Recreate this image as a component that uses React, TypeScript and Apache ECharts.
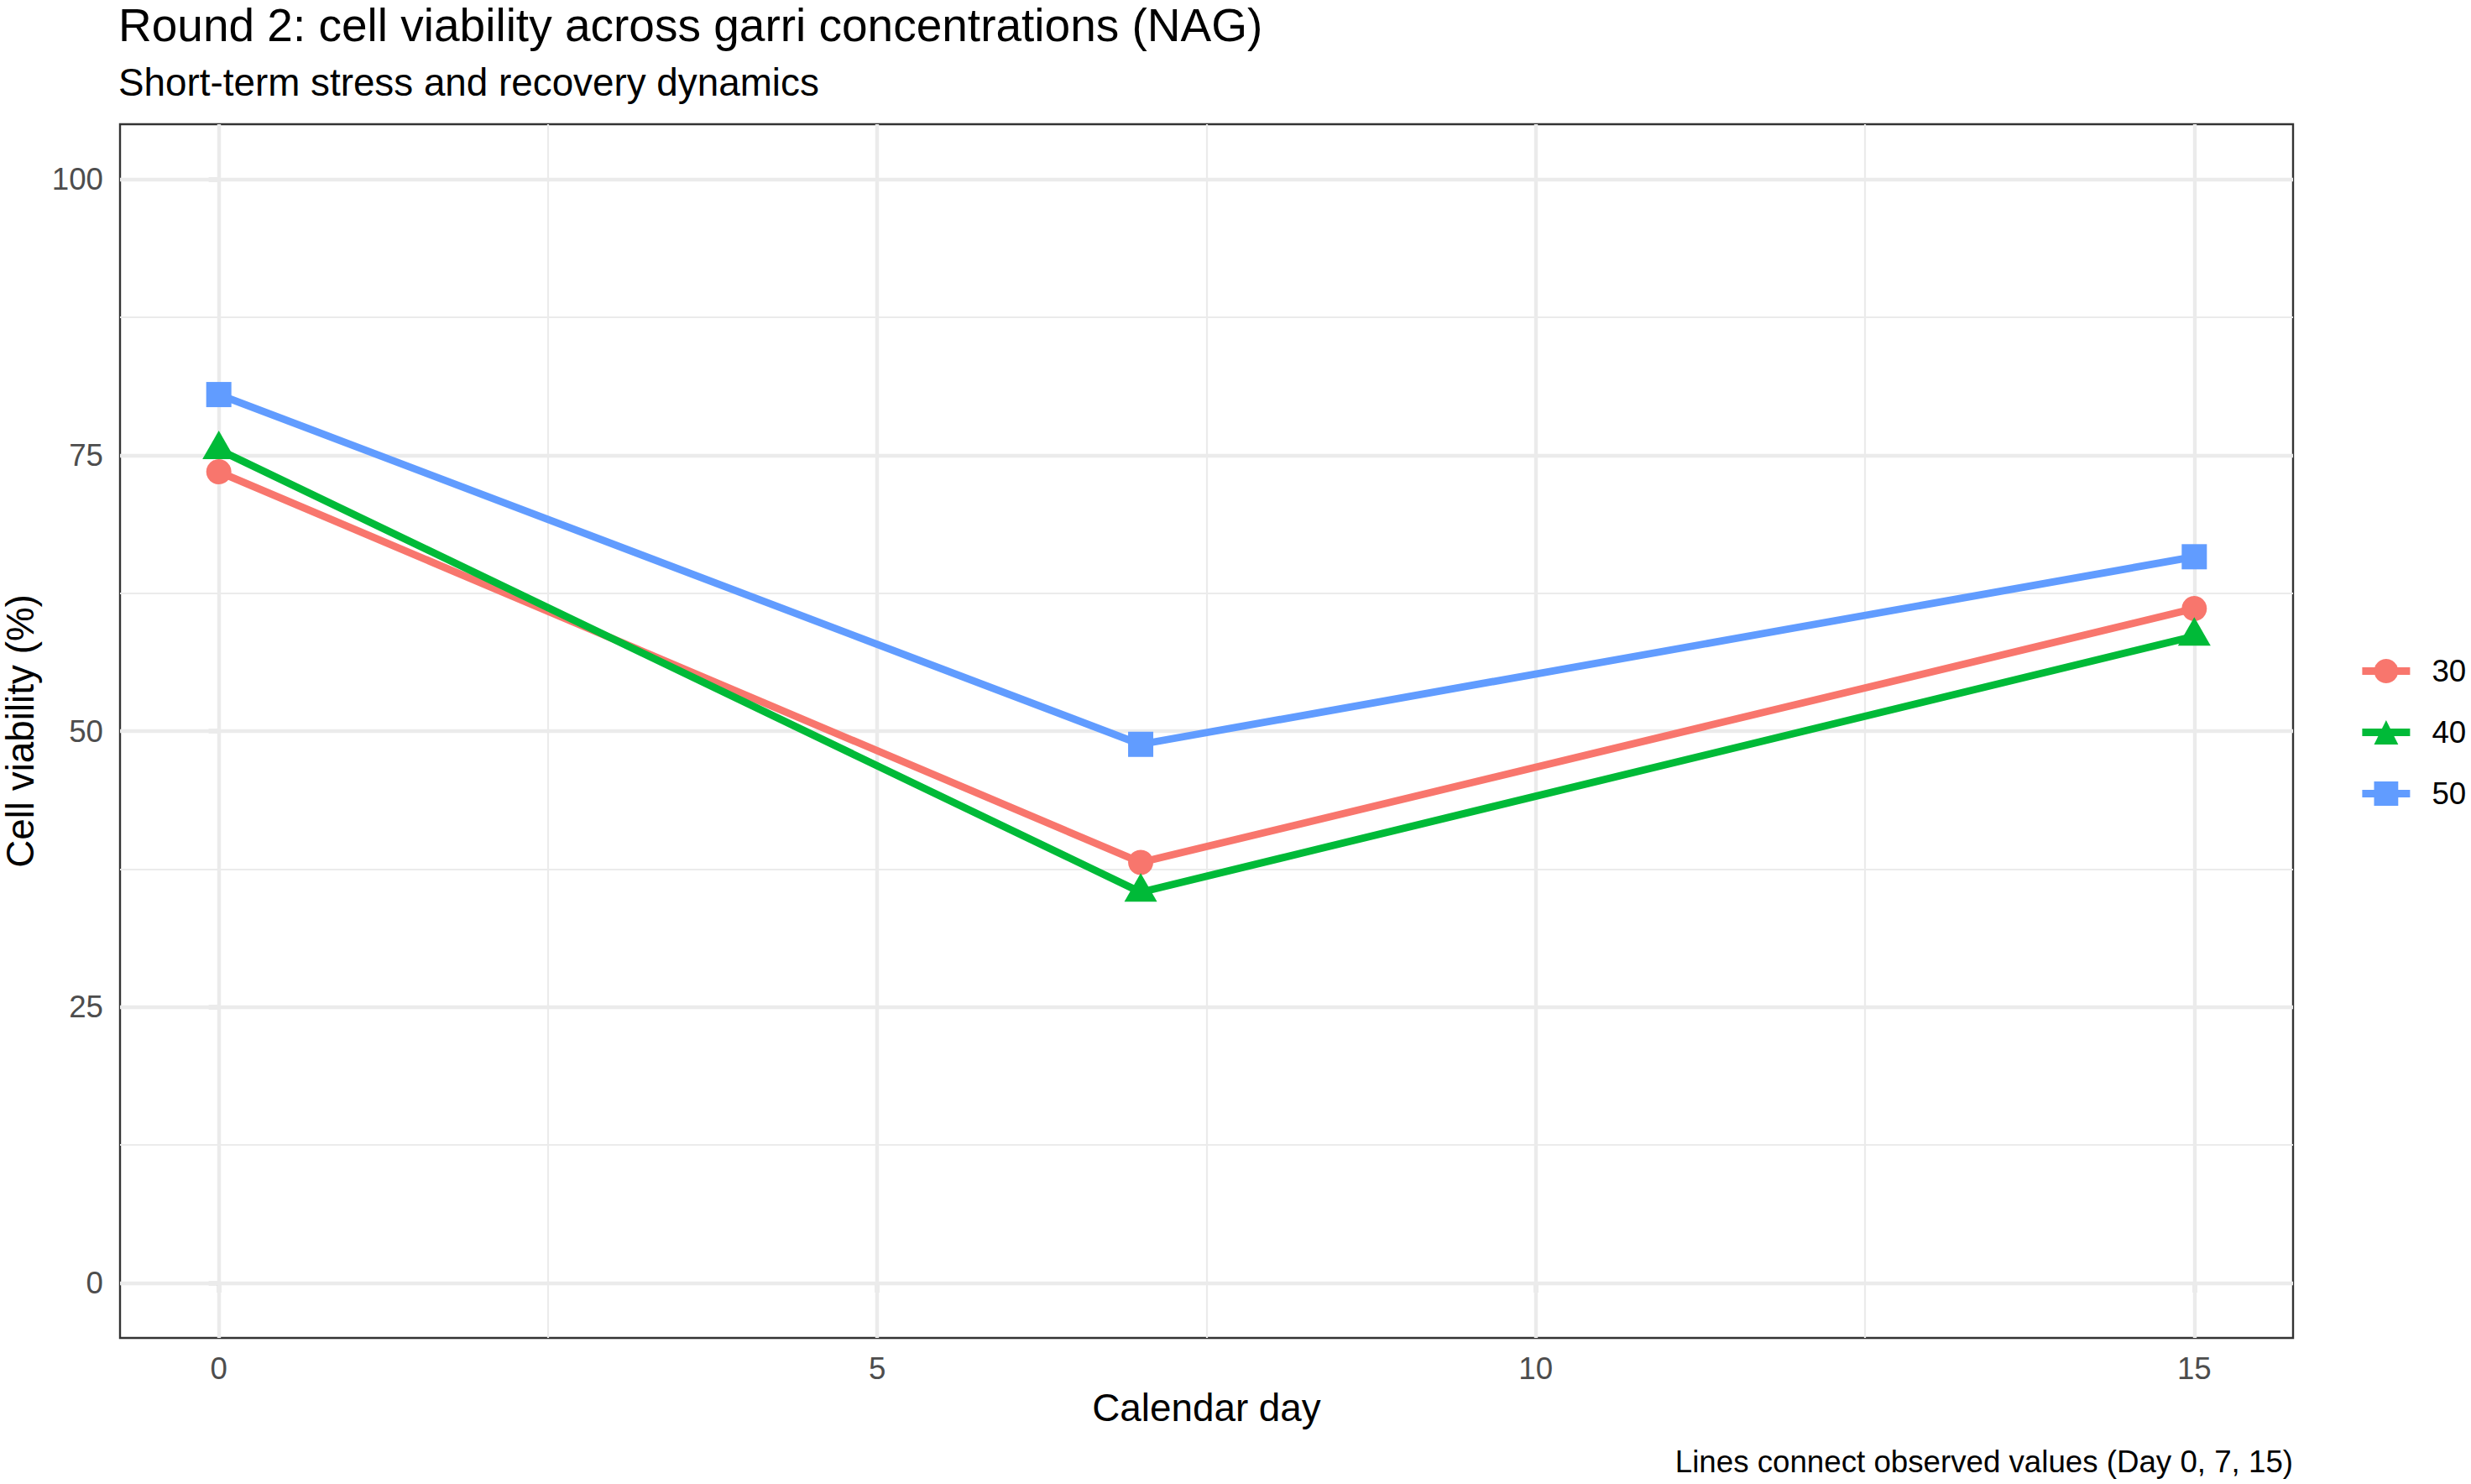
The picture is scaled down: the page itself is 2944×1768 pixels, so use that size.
import React, { useEffect, useRef } from "react";
import * as echarts from "echarts";

const days = [0, 7, 15];
const seriesNames = ["30", "40", "50"];
const conc30 = [73.5, 38.1, 61.1];
const conc40 = [75.5, 35.4, 58.6];
const conc50 = [80.5, 48.8, 65.8];
const yTicks = [0, 25, 50, 75, 100];
const yMinor = [12.5, 37.5, 62.5, 87.5];
const xTicks = [0, 5, 10, 15];
const xMinor = [2.5, 7.5, 12.5];

const colors = ["#F8766D", "#00BA38", "#619CFF"];
const symbols = ["circle", "triangle", "rect"];
const FONT = "'Liberation Sans', Arial, Helvetica, sans-serif";

export default function App() {
  const ref = useRef<HTMLDivElement>(null);
  useEffect(() => {
    if (!ref.current) return;
    const chart = echarts.init(ref.current, null, { renderer: "svg" });
    const values = [conc30, conc40, conc50];

    const gridLines: any[] = [];
    yTicks.forEach((v) => gridLines.push({ yAxis: v, lineStyle: { color: "#EBEBEB", width: 4.4, type: "solid" } }));
    yMinor.forEach((v) => gridLines.push({ yAxis: v, lineStyle: { color: "#EBEBEB", width: 2.2, type: "solid" } }));
    xTicks.forEach((v) => gridLines.push({ xAxis: v, lineStyle: { color: "#EBEBEB", width: 4.4, type: "solid" } }));
    xMinor.forEach((v) => gridLines.push({ xAxis: v, lineStyle: { color: "#EBEBEB", width: 2.2, type: "solid" } }));

    const lineSeries = seriesNames.map((name, i) => ({
      name,
      type: "line",
      data: days.map((d, j) => [d, values[i][j]]),
      symbol: symbols[i],
      showSymbol: false,
      lineStyle: { color: colors[i], width: 8.8 },
      itemStyle: { color: colors[i] },
      z: 3,
      silent: true,
      markLine:
        i === 0
          ? { silent: true, symbol: ["none", "none"], label: { show: false }, z: 1, animation: false, data: gridLines }
          : undefined,
    }));
    const pointSeries = seriesNames.map((name, i) => ({
      name,
      type: "scatter",
      data: days.map((d, j) => [d, values[i][j]]),
      symbol: symbols[i],
      symbolSize: i === 1 ? [39, 34] : 30,
      symbolOffset: i === 1 ? [0, -5.7] : [0, 0],
      itemStyle: { color: colors[i], opacity: 1 },
      z: 4 + i,
      silent: true,
    }));

    chart.setOption({
      animation: false,
      backgroundColor: "#FFFFFF",
      textStyle: { fontFamily: FONT },
      title: [
        { text: "Round 2: cell viability across garri concentrations (NAG)", left: 141, top: 2, padding: 0, textStyle: { fontFamily: FONT, fontSize: 55, fontWeight: "normal", color: "#000000" } },
        { text: "Short-term stress and recovery dynamics", left: 141, top: 75, padding: 0, textStyle: { fontFamily: FONT, fontSize: 45.8, fontWeight: "normal", color: "#000000" } },
        { text: "Lines connect observed values (Day 0, 7, 15)", right: 212, top: 1723, padding: 0, textStyle: { fontFamily: FONT, fontSize: 36.7, fontWeight: "normal", color: "#000000" } },
      ],
      grid: {
        left: 143,
        right: 212,
        top: 148,
        bottom: 174,
        show: true,
        borderColor: "#333333",
        borderWidth: 2.4,
        backgroundColor: "transparent",
        containLabel: false,
        outerBoundsMode: "none",
      },
      legend: {
        orient: "vertical",
        left: 2810,
        top: 781,
        padding: 0,
        itemWidth: 57,
        itemHeight: 36,
        itemGap: 36,
        data: seriesNames,
        selectedMode: false,
        lineStyle: { width: 8.8 },
        textStyle: { fontFamily: FONT, fontSize: 36.7, lineHeight: 36, color: "#000000", padding: [0, 0, 0, 21] },
      },
      xAxis: {
        type: "value",
        min: -0.75,
        max: 15.75,
        name: "Calendar day",
        nameLocation: "middle",
        nameGap: 60,
        nameTextStyle: { fontFamily: FONT, fontSize: 45.8, color: "#000000" },
        axisLine: { show: false },
        axisTick: { show: true, length: 12, customValues: xTicks, lineStyle: { color: "#333333", width: 4.2 } },
        axisLabel: { customValues: xTicks, margin: 18, fontFamily: FONT, fontSize: 36.7, color: "#4D4D4D" },
        splitLine: { show: false },
      },
      yAxis: {
        type: "value",
        min: -5,
        max: 105,
        name: "Cell viability (%)",
        nameLocation: "middle",
        nameGap: 96,
        nameTextStyle: { fontFamily: FONT, fontSize: 45.8, color: "#000000" },
        axisLine: { show: false },
        axisTick: { show: true, length: 12, customValues: yTicks, lineStyle: { color: "#333333", width: 4.2 } },
        axisLabel: { customValues: yTicks, margin: 20, fontFamily: FONT, fontSize: 36.7, color: "#4D4D4D" },
        splitLine: { show: false },
      },
      series: [...lineSeries, ...pointSeries],
    });
    return () => chart.dispose();
  }, []);
  return <div ref={ref} style={{ position: "absolute", left: 0, top: 0, width: 2944, height: 1768 }} />;
}
